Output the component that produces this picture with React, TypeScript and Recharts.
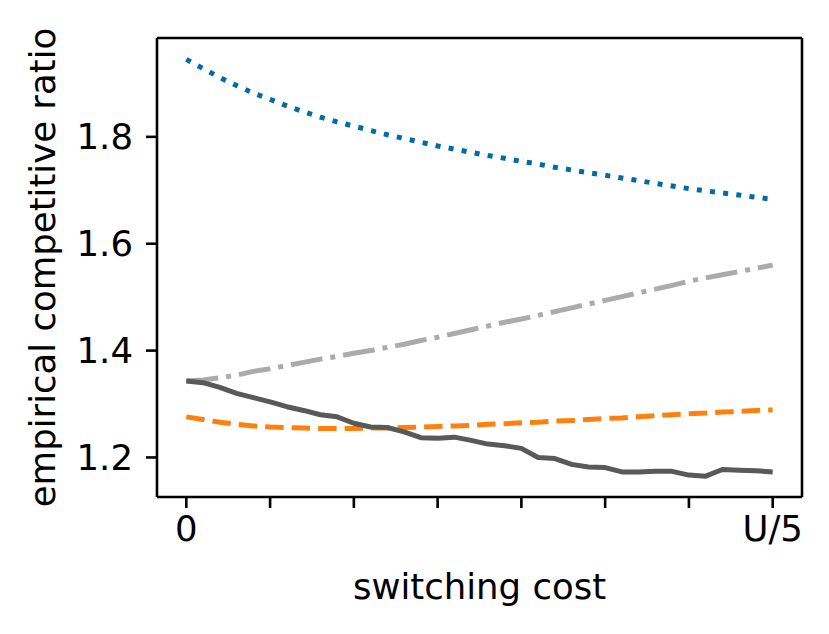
import { LineChart, Line, XAxis, YAxis, Label, ReferenceLine } from "recharts"

// switching cost steps, 0 .. U/5
const steps = Array.from({ length: 36 }, (_, i) => i)

const dotted = [
  1.945, 1.928, 1.911, 1.896, 1.882, 1.870, 1.858, 1.847, 1.837, 1.828,
  1.820, 1.812, 1.804, 1.797, 1.790, 1.783, 1.777, 1.771, 1.765, 1.760,
  1.754, 1.749, 1.743, 1.738, 1.733, 1.728, 1.723, 1.718, 1.713, 1.708,
  1.703, 1.699, 1.695, 1.691, 1.687, 1.683,
]

const dashed = [
  1.276, 1.271, 1.266, 1.262, 1.259, 1.257, 1.256, 1.255, 1.254, 1.254,
  1.254, 1.255, 1.255, 1.256, 1.257, 1.258, 1.259, 1.260, 1.262, 1.263,
  1.265, 1.266, 1.268, 1.269, 1.271, 1.273, 1.274, 1.276, 1.278, 1.280,
  1.282, 1.283, 1.285, 1.286, 1.288, 1.289,
]

const dashDot = [
  1.343, 1.345, 1.349, 1.354, 1.361, 1.366, 1.372, 1.378, 1.384, 1.389,
  1.395, 1.400, 1.406, 1.412, 1.419, 1.425, 1.432, 1.439, 1.446, 1.453,
  1.459, 1.466, 1.473, 1.480, 1.487, 1.494, 1.501, 1.508, 1.515, 1.522,
  1.530, 1.536, 1.542, 1.548, 1.554, 1.560,
]

const solid = [
  1.343, 1.340, 1.331, 1.320, 1.312, 1.304, 1.295, 1.288, 1.280, 1.276,
  1.264, 1.257, 1.256, 1.248, 1.237, 1.236, 1.238, 1.232, 1.225, 1.222,
  1.217, 1.200, 1.198, 1.187, 1.182, 1.181, 1.173, 1.173, 1.174, 1.174,
  1.167, 1.165, 1.1775, 1.176, 1.175, 1.173,
]

const xTicks = [0, 5, 10, 15, 20, 25, 30, 35]
const xTickLabels: Record<number, string> = { 0: "0", 35: "U/5" }
const yTicks = [1.2, 1.4, 1.6, 1.8]

const xDomain: [number, number] = [-1.75, 36.75]
const yDomain: [number, number] = [1.126, 1.985]

const data = steps.map((i) => ({
  i,
  dotted: dotted[i],
  dashed: dashed[i],
  dashDot: dashDot[i],
  solid: solid[i],
}))

const font = "'DejaVu Sans', sans-serif"
const fontSize = 35.5
const axisStroke = { stroke: "#000", strokeWidth: 2.6 }
const tickStyle = { fill: "#000", fontSize, fontFamily: font }
const lw = 5

export default function App() {
  return (
    <div style={{ position: "absolute", left: 0, top: 0, background: "#fff", fontFamily: font }}>
      <LineChart width={829} height={634} data={data} margin={{ top: 38, right: 27, bottom: 0, left: 0 }}>
        <XAxis
          dataKey="i"
          type="number"
          domain={xDomain}
          ticks={xTicks}
          tickFormatter={(v: number) => xTickLabels[v] ?? ""}
          interval={0}
          height={137}
          tickSize={11}
          tickMargin={8}
          axisLine={axisStroke}
          tickLine={axisStroke}
          tick={tickStyle}
          allowDataOverflow
        >
          <Label
            content={({ viewBox }: any) => (
              <text
                x={viewBox.x + viewBox.width / 2}
                y={viewBox.y + 102}
                textAnchor="middle"
                fontSize={fontSize}
                fontFamily={font}
                fill="#000"
              >
                switching cost
              </text>
            )}
          />
        </XAxis>
        <YAxis
          type="number"
          domain={yDomain}
          ticks={yTicks}
          tickFormatter={(v: number) => v.toFixed(1)}
          width={157}
          tickSize={11}
          tickMargin={13}
          axisLine={axisStroke}
          tickLine={axisStroke}
          tick={tickStyle}
          allowDataOverflow
        >
          <Label
            content={({ viewBox }: any) => {
              const cx = 42
              const cy = viewBox.y + viewBox.height / 2
              return (
                <text
                  x={cx}
                  y={cy}
                  transform={`rotate(-90 ${cx} ${cy})`}
                  textAnchor="middle"
                  dominantBaseline="central"
                  fontSize={fontSize}
                  fontFamily={font}
                  fill="#000"
                >
                  empirical competitive ratio
                </text>
              )
            }}
          />
        </YAxis>
        {/* top and right spines */}
        <ReferenceLine y={yDomain[1]} stroke="#000" strokeWidth={2.6} />
        <ReferenceLine x={xDomain[1]} stroke="#000" strokeWidth={2.6} />
        <Line
          dataKey="dotted"
          type="linear"
          stroke="#006BA4"
          strokeWidth={lw}
          strokeDasharray="5 8.25"
          dot={false}
          isAnimationActive={false}
        />
        <Line
          dataKey="dashed"
          type="linear"
          stroke="#FF800E"
          strokeWidth={lw}
          strokeDasharray="18.5 8"
          dot={false}
          isAnimationActive={false}
        />
        <Line
          dataKey="dashDot"
          type="linear"
          stroke="#ABABAB"
          strokeWidth={lw}
          strokeDasharray="32 8 5 8"
          dot={false}
          isAnimationActive={false}
        />
        <Line
          dataKey="solid"
          type="linear"
          stroke="#595959"
          strokeWidth={lw}
          strokeLinejoin="round"
          dot={false}
          isAnimationActive={false}
        />
      </LineChart>
    </div>
  )
}
